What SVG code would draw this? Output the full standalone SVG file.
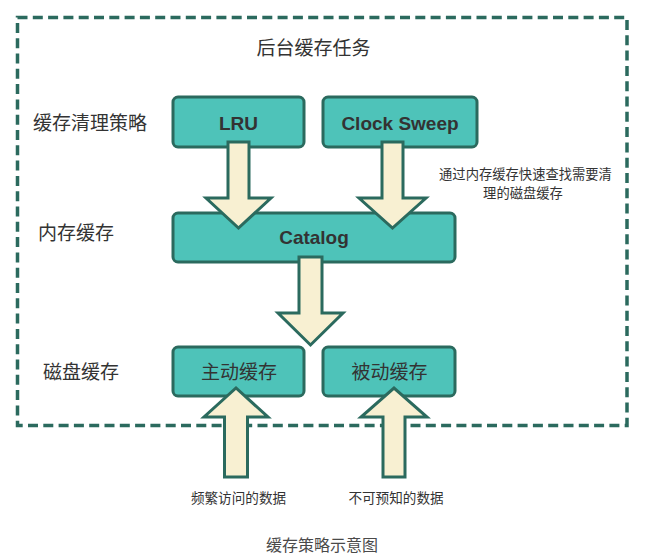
<svg xmlns="http://www.w3.org/2000/svg" width="661" height="557" viewBox="0 0 661 557">
<style>
.bg{fill:#ffffff}
.frame{fill:none;stroke:#2B6A5E;stroke-width:3.5;stroke-dasharray:10 5.3}
.box{fill:#4EC3B9;stroke:#2B6A5E;stroke-width:3}
.arr{fill:#F8F0D2;stroke:#2B6A5E;stroke-width:3;stroke-linejoin:miter}
.cjk{font-family:"Noto Sans CJK SC","Noto Sans",sans-serif;fill:#333333}
.lat{font-family:"Liberation Sans","Noto Sans CJK SC",sans-serif;font-weight:bold;fill:#333333}
.lbl{font-size:19px}
.small{font-size:13.6px}
.note{font-size:13.3px}
.cap{font-size:16px;fill:#4a4a4a}
</style>
<rect class="bg" x="0" y="0" width="661" height="557"/>
<g id="frame">
<rect class="frame" x="17.5" y="17.5" width="609.5" height="408"/>
<text class="cjk lbl" x="313.5" y="55" text-anchor="middle">后台缓存任务</text>
</g>
<g id="row-labels">
<text class="cjk lbl" x="33" y="130">缓存清理策略</text>
<text class="cjk lbl" x="38" y="240">内存缓存</text>
<text class="cjk lbl" x="43" y="379">磁盘缓存</text>
</g>
<g id="lru">
<rect class="box" x="173" y="97" width="131" height="50" rx="5"/>
<text class="lat lbl" x="238.5" y="130" text-anchor="middle">LRU</text>
</g>
<g id="clock-sweep">
<rect class="box" x="323" y="97" width="154" height="50" rx="5"/>
<text class="lat lbl" x="400" y="130" text-anchor="middle">Clock Sweep</text>
</g>
<g id="catalog">
<rect class="box" x="173" y="213" width="282" height="49" rx="5"/>
<text class="lat lbl" x="314" y="244" text-anchor="middle">Catalog</text>
</g>
<g id="active-cache">
<rect class="box" x="173" y="347" width="131" height="49" rx="5"/>
<text class="cjk lbl" x="239" y="379" text-anchor="middle">主动缓存</text>
</g>
<g id="passive-cache">
<rect class="box" x="323" y="347" width="132" height="49" rx="5"/>
<text class="cjk lbl" x="389.5" y="379" text-anchor="middle">被动缓存</text>
</g>
<g id="connectors">
<path class="arr" d="M228,142 L249,142 L249,198 L271,198 L238.5,228 L206,198 L228,198 Z"/>
<path class="arr" d="M382,142 L403,142 L403,198 L426,198 L392.5,228 L359,198 L382,198 Z"/>
<path class="arr" d="M299,257 L322,257 L322,313 L343,313 L310.5,345 L278,313 L299,313 Z"/>
<path class="arr" d="M224.5,477 L247.5,477 L247.5,417 L268,417 L236,388 L204,417 L224.5,417 Z"/>
<path class="arr" d="M383,477 L405,477 L405,417 L427,417 L394,388 L361,417 L383,417 Z"/>
</g>
<g id="annotation">
<text class="cjk note" x="525.5" y="179" text-anchor="middle">通过内存缓存快速查找需要清</text>
<text class="cjk note" x="523" y="198" text-anchor="middle">理的磁盘缓存</text>
</g>
<g id="source-labels">
<text class="cjk small" x="238.5" y="503" text-anchor="middle">频繁访问的数据</text>
<text class="cjk small" x="396" y="503" text-anchor="middle">不可预知的数据</text>
</g>
<g id="caption">
<text class="cjk cap" x="322" y="551" text-anchor="middle">缓存策略示意图</text>
</g>
</svg>
